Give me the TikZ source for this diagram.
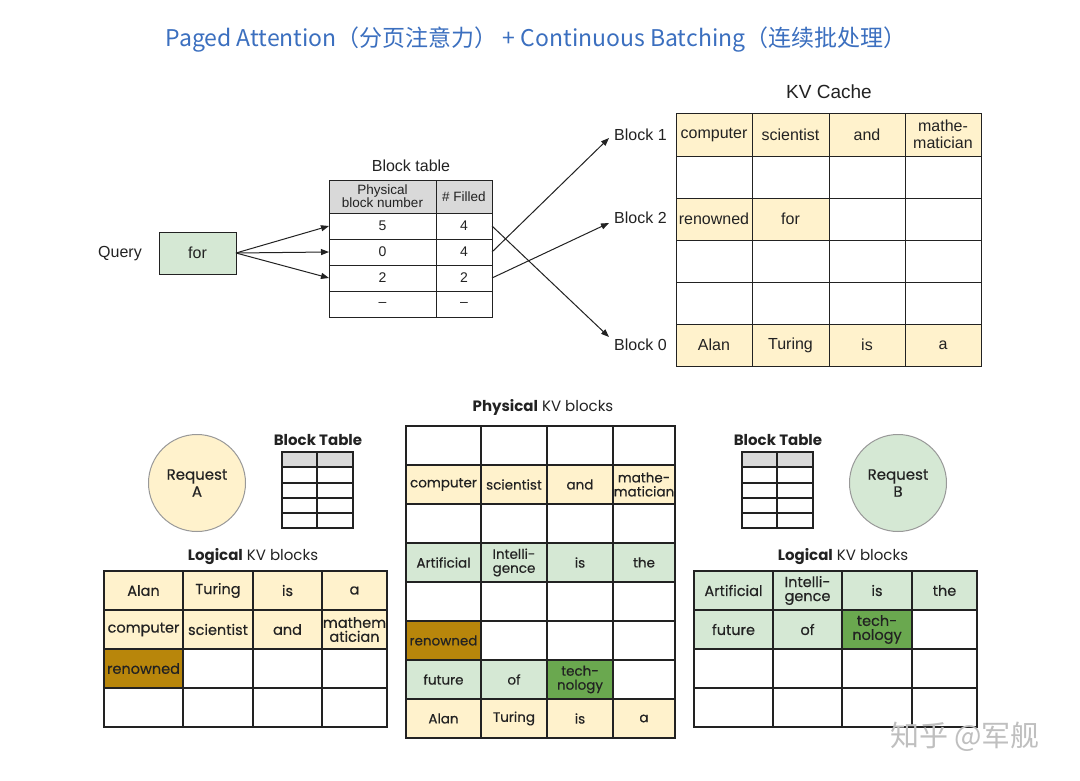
\documentclass[tikz,border=0pt]{standalone}
\usepackage{fontspec}
\setmainfont{Liberation Sans}
\newfontfamily\pop[FakeBold=0.35]{Poppins}
\newfontfamily\poph{Poppins}
\newfontfamily\cjk{Noto Sans CJK SC}
\usetikzlibrary{arrows.meta}
\definecolor{ylw}{HTML}{FFF2CC}
\definecolor{grn}{HTML}{D5E8D4}
\definecolor{gold}{HTML}{B8860B}
\definecolor{dgrn}{HTML}{6AA84F}
\definecolor{hdr}{HTML}{D9D9D9}
\definecolor{ttl}{HTML}{3B6FBF}
\definecolor{ink}{HTML}{222222}
\tikzset{
  cell/.style={draw=ink, line width=0.9pt, inner sep=0pt, outer sep=0pt, align=center, text=ink, font=\fontsize{16}{17}\selectfont},
  hcell/.style={cell, font=\fontsize{13.5}{14}\selectfont},
  ncell/.style={cell, font=\fontsize{14}{15}\selectfont},
  pcell/.style={draw=ink, line width=1.2pt, inner sep=0pt, outer sep=0pt, align=center, text=ink, font=\pop\fontsize{13.5}{14}\selectfont},
  lcell/.style={pcell, font=\pop\fontsize{14.5}{14}\selectfont},
  scell/.style={draw=ink, line width=1.1pt, inner sep=0pt, outer sep=0pt},
  lbl/.style={text=ink, font=\fontsize{16}{17}\selectfont},
  plbl/.style={text=ink, font=\poph\fontsize{15}{16}\selectfont},
  arr/.style={-{Triangle[length=8pt,width=6pt]}, line width=1pt, draw=ink},
  req/.style={circle, draw=black!40, line width=1pt, minimum size=97pt, align=center, text=ink, font=\pop\fontsize{15}{17}\selectfont}
}
% #1 prefix, #2 row, #3 x bounds, #4 top, #5 bottom, #6 style, #7 list c/fill/text
\newcommand\grow[7]{%
  \foreach \c/\f/\t in {#7}{%
    \pgfmathsetmacro\xa{{#3}[\c-1]}%
    \pgfmathsetmacro\xb{{#3}[\c]}%
    \node[#6, fill=\f, minimum width={(\xb-\xa)*1pt}, minimum height={(#5-#4)*1pt}]
      (#1-#2-\c) at ({(\xa+\xb)/2},{(#4+#5)/2}) {\t};
  }}
\begin{document}
\begin{tikzpicture}[x=1pt, y=-1pt]
\useasboundingbox (0,0) rectangle (1080,781);
\fill[white] (0,0) rectangle (1080,781);

% title
\node[text=ttl, font=\cjk\fontsize{23}{23}\selectfont] (title) at (536,40)
  {Paged Attention（分页注意力） + Continuous Batching（连续批处理）};

% ---------- top part ----------
\node[lbl] (q) at (120,254) {Query};
\node[cell, fill=grn, minimum width=77pt, minimum height=42pt] (for) at (197.5,253) {for};

\node[lbl] (bttl) at (411,166) {Block table};
\def\btx{329,436,492}
\grow{bt}{1}{\btx}{180}{213}{hcell}{1/hdr/{Physical\\[-1pt]block number}, 2/hdr/{\# Filled}}
\grow{bt}{2}{\btx}{213}{239}{ncell}{1/white/5, 2/white/4}
\grow{bt}{3}{\btx}{239}{265}{ncell}{1/white/0, 2/white/4}
\grow{bt}{4}{\btx}{265}{291}{ncell}{1/white/2, 2/white/2}
\grow{bt}{5}{\btx}{291}{317}{ncell}{1/white/--, 2/white/--}

\draw[arr] (for.east) -- (bt-2-1.west);
\draw[arr] (for.east) -- (bt-3-1.west);
\draw[arr] (for.east) -- (bt-4-1.west);

\node[lbl, anchor=west, inner sep=0pt] (b1) at (614,135) {Block 1};
\node[lbl, anchor=west, inner sep=0pt] (b2) at (614,218) {Block 2};
\node[lbl, anchor=west, inner sep=0pt] (b0) at (614,345) {Block 0};
\coordinate (t1) at (609,138);
\coordinate (t2) at (609,223);
\coordinate (t0) at (609,337);
\draw[arr] (bt-2-2.east) -- (t0);
\draw[arr] (bt-3-2.east) -- (t1);
\draw[arr] (bt-4-2.east) -- (t2);

\node[text=ink, font=\fontsize{19}{20}\selectfont] (kvt) at (829,92) {KV Cache};
\def\kcx{676,752,829,905,981}
\grow{kc}{1}{\kcx}{113}{156}{cell}{1/ylw/computer, 2/ylw/scientist, 3/ylw/and, 4/ylw/{mathe-\\matician}}
\grow{kc}{2}{\kcx}{156}{198}{cell}{1/white/{}, 2/white/{}, 3/white/{}, 4/white/{}}
\grow{kc}{3}{\kcx}{198}{240}{cell}{1/ylw/renowned, 2/ylw/for, 3/white/{}, 4/white/{}}
\grow{kc}{4}{\kcx}{240}{282}{cell}{1/white/{}, 2/white/{}, 3/white/{}, 4/white/{}}
\grow{kc}{5}{\kcx}{282}{324}{cell}{1/white/{}, 2/white/{}, 3/white/{}, 4/white/{}}
\grow{kc}{6}{\kcx}{324}{366}{cell}{1/ylw/Alan, 2/ylw/Turing, 3/ylw/is, 4/ylw/a}

% ---------- bottom left: request A ----------
\node[req, fill=ylw] (ra) at (197,483) {Request\\A};
\node[text=ink, font=\poph\bfseries\fontsize{15}{15}\selectfont] (sat) at (318,440) {Block Table};
\def\sax{282,317,353}
\grow{sa}{1}{\sax}{452}{467}{scell}{1/hdr/{}, 2/hdr/{}}
\grow{sa}{2}{\sax}{467}{483}{scell}{1/white/{}, 2/white/{}}
\grow{sa}{3}{\sax}{483}{498}{scell}{1/white/{}, 2/white/{}}
\grow{sa}{4}{\sax}{498}{513}{scell}{1/white/{}, 2/white/{}}
\grow{sa}{5}{\sax}{513}{528}{scell}{1/white/{}, 2/white/{}}

\node[plbl] (lat) at (253,557) {\textbf{Logical} KV blocks};
\def\lax{104,183,253,322,387}
\grow{la}{1}{\lax}{571}{610}{lcell}{1/ylw/Alan, 2/ylw/Turing, 3/ylw/is, 4/ylw/a}
\grow{la}{2}{\lax}{610}{649}{lcell}{1/ylw/computer, 2/ylw/scientist, 3/ylw/and, 4/ylw/{mathem\\atician}}
\grow{la}{3}{\lax}{649}{688}{lcell}{1/gold/renowned, 2/white/{}, 3/white/{}, 4/white/{}}
\grow{la}{4}{\lax}{688}{727}{lcell}{1/white/{}, 2/white/{}, 3/white/{}, 4/white/{}}

% ---------- middle: physical ----------
\node[plbl] (pht) at (543,407) {\textbf{Physical} KV blocks};
\def\phx{406,481,547,613,675}
\grow{ph}{1}{\phx}{426}{465}{pcell}{1/white/{}, 2/white/{}, 3/white/{}, 4/white/{}}
\grow{ph}{2}{\phx}{465}{504}{pcell}{1/ylw/computer, 2/ylw/scientist, 3/ylw/and, 4/ylw/{mathe-\\matician}}
\grow{ph}{3}{\phx}{504}{543}{pcell}{1/white/{}, 2/white/{}, 3/white/{}, 4/white/{}}
\grow{ph}{4}{\phx}{543}{582}{pcell}{1/grn/Artificial, 2/grn/{Intelli-\\gence}, 3/grn/is, 4/grn/the}
\grow{ph}{5}{\phx}{582}{621}{pcell}{1/white/{}, 2/white/{}, 3/white/{}, 4/white/{}}
\grow{ph}{6}{\phx}{621}{660}{pcell}{1/gold/renowned, 2/white/{}, 3/white/{}, 4/white/{}}
\grow{ph}{7}{\phx}{660}{699}{pcell}{1/grn/future, 2/grn/of, 3/dgrn/{tech-\\nology}, 4/white/{}}
\grow{ph}{8}{\phx}{699}{738}{pcell}{1/ylw/Alan, 2/ylw/Turing, 3/ylw/is, 4/ylw/a}

% ---------- bottom right: request B ----------
\node[req, fill=grn] (rb) at (898,483) {Request\\B};
\node[text=ink, font=\poph\bfseries\fontsize{15}{15}\selectfont] (sbt) at (778,440) {Block Table};
\def\sbx{742,777,813}
\grow{sb}{1}{\sbx}{452}{467}{scell}{1/hdr/{}, 2/hdr/{}}
\grow{sb}{2}{\sbx}{467}{483}{scell}{1/white/{}, 2/white/{}}
\grow{sb}{3}{\sbx}{483}{498}{scell}{1/white/{}, 2/white/{}}
\grow{sb}{4}{\sbx}{498}{513}{scell}{1/white/{}, 2/white/{}}
\grow{sb}{5}{\sbx}{513}{528}{scell}{1/white/{}, 2/white/{}}

\node[plbl] (lbt) at (843,557) {\textbf{Logical} KV blocks};
\def\lbx{694,773,842,912,977}
\grow{lb}{1}{\lbx}{571}{610}{lcell}{1/grn/Artificial, 2/grn/{Intelli-\\gence}, 3/grn/is, 4/grn/the}
\grow{lb}{2}{\lbx}{610}{649}{lcell}{1/grn/future, 2/grn/of, 3/dgrn/{tech-\\nology}, 4/white/{}}
\grow{lb}{3}{\lbx}{649}{688}{lcell}{1/white/{}, 2/white/{}, 3/white/{}, 4/white/{}}
\grow{lb}{4}{\lbx}{688}{727}{lcell}{1/white/{}, 2/white/{}, 3/white/{}, 4/white/{}}

% watermark
\node[text=black!25, font=\cjk\fontsize{29}{29}\selectfont] (wm) at (965,737) {知乎 @军舰};
\end{tikzpicture}
\end{document}
